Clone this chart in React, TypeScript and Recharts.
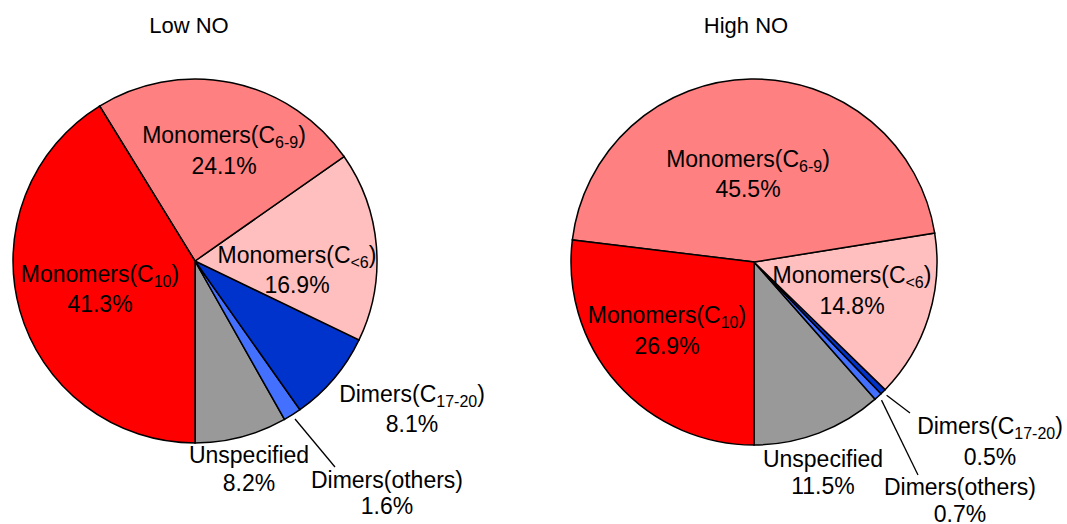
import React from "react";
import { Cell, Pie, PieChart } from "recharts";

// slice order runs counter-clockwise from 6 o'clock
const CATEGORIES = [
  "Unspecified",
  "Dimers(others)",
  "Dimers(C17-20)",
  "Monomers(C<6)",
  "Monomers(C6-9)",
  "Monomers(C10)",
];
// label parts: main text, subscript, tail
const LABEL_MAIN = ["Unspecified", "Dimers(others)", "Dimers(C", "Monomers(C", "Monomers(C", "Monomers(C"];
const LABEL_SUB = ["", "", "17-20", "<6", "6-9", "10"];
const LABEL_TAIL = ["", "", ")", ")", ")", ")"];

const LOW_NO = [8.2, 1.6, 8.1, 16.9, 24.1, 41.3];
const HIGH_NO = [11.5, 0.7, 0.5, 14.8, 45.5, 26.9];

const COLORS = ["#999999", "#4470ff", "#0033cc", "#ffbfbf", "#ff8080", "#ff0000"];
const FONT = "'Liberation Sans', Arial, sans-serif";

// label anchor (centre of first baseline) relative to the pie centre, plus the 2nd-line gap
const LOW_LABELS = [
  { dx: 54, dy: 202, gap: 28 },
  { dx: 192, dy: 227, gap: 26 },
  { dx: 217, dy: 141, gap: 30 },
  { dx: 102, dy: 2, gap: 30 },
  { dx: 29, dy: -118, gap: 31 },
  { dx: -95, dy: 21, gap: 30 },
];
const HIGH_LABELS = [
  { dx: 69, dy: 205, gap: 27 },
  { dx: 206, dy: 233, gap: 27 },
  { dx: 236, dy: 172, gap: 31 },
  { dx: 98, dy: 21, gap: 31 },
  { dx: -6, dy: -95, gap: 30 },
  { dx: -87, dy: 61, gap: 31 },
];
// leader line end points (relative to pie centre), keyed by slice index
const LOW_LEADERS: Record<number, [number, number]> = { 1: [140, 206] };
const HIGH_LEADERS: Record<number, [number, number]> = { 1: [164, 213], 2: [156, 151] };

const RAD = Math.PI / 180;

function makeLabel(layout: typeof LOW_LABELS, leaders: Record<number, [number, number]>) {
  return (props: any) => {
    const { cx, cy, index, midAngle, outerRadius, value } = props;
    const pos = layout[index];
    const x = cx + pos.dx;
    const y = cy + pos.dy;
    const lead = leaders[index];
    let line = null;
    if (lead) {
      const r = outerRadius + 5;
      const sx = cx + r * Math.cos(-midAngle * RAD);
      const sy = cy + r * Math.sin(-midAngle * RAD);
      line = <line x1={sx} y1={sy} x2={cx + lead[0]} y2={cy + lead[1]} stroke="#000" strokeWidth={1.3} />;
    }
    return (
      <g key={`lbl-${index}`}>
        {line}
        <text x={x} y={y} textAnchor="middle" fontFamily={FONT} fontSize={23} fill="#000">
          <tspan>{LABEL_MAIN[index]}</tspan>
          {LABEL_SUB[index] && (
            <tspan fontSize={16} dy={5}>
              {LABEL_SUB[index]}
            </tspan>
          )}
          {LABEL_TAIL[index] && <tspan dy={-5}>{LABEL_TAIL[index]}</tspan>}
        </text>
        <text x={x} y={y + pos.gap} textAnchor="middle" fontFamily={FONT} fontSize={23} fill="#000">
          {`${value.toFixed(1)}%`}
        </text>
      </g>
    );
  };
}

const lowData = CATEGORIES.map((name, i) => ({ name, value: LOW_NO[i] }));
const highData = CATEGORIES.map((name, i) => ({ name, value: HIGH_NO[i] }));

export default function App() {
  return (
    <div style={{ position: "absolute", left: 0, top: 0, background: "#fff" }}>
      <PieChart width={1067} height={524} margin={{ top: 0, right: 0, bottom: 0, left: 0 }}>
        <text x={189} y={33} textAnchor="middle" fontFamily={FONT} fontSize={22} fill="#000">
          Low NO
        </text>
        <text x={746} y={33} textAnchor="middle" fontFamily={FONT} fontSize={22} fill="#000">
          High NO
        </text>
        <Pie
          data={lowData}
          dataKey="value"
          nameKey="name"
          cx={195}
          cy={261}
          outerRadius={182}
          startAngle={-90}
          endAngle={270}
          label={makeLabel(LOW_LABELS, LOW_LEADERS)}
          labelLine={false}
          isAnimationActive={false}
        >
          {lowData.map((_, i) => (
            <Cell key={i} fill={COLORS[i]} stroke="#000" strokeWidth={1.5} />
          ))}
        </Pie>
        <Pie
          data={highData}
          dataKey="value"
          nameKey="name"
          cx={754}
          cy={262}
          outerRadius={183}
          startAngle={-90}
          endAngle={270}
          label={makeLabel(HIGH_LABELS, HIGH_LEADERS)}
          labelLine={false}
          isAnimationActive={false}
        >
          {highData.map((_, i) => (
            <Cell key={i} fill={COLORS[i]} stroke="#000" strokeWidth={1.5} />
          ))}
        </Pie>
      </PieChart>
    </div>
  );
}
